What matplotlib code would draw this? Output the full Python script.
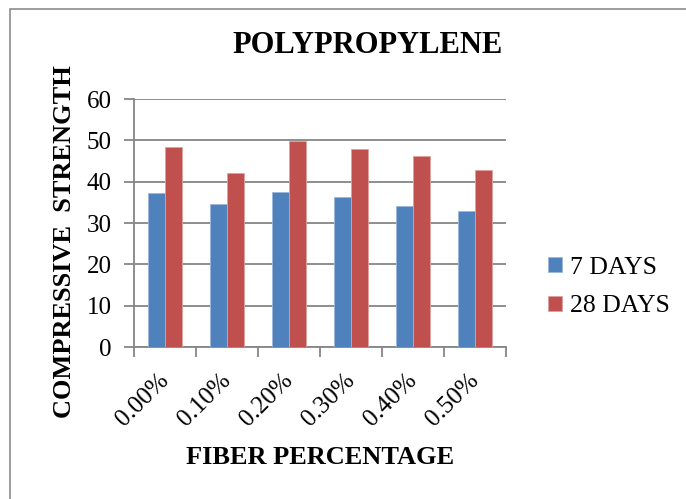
import numpy as np
import matplotlib
matplotlib.use("Agg")
import matplotlib.pyplot as plt
from matplotlib.patches import Rectangle

# compressive strength by fiber content
fiber_pct = ['0.00%', '0.10%', '0.20%', '0.30%', '0.40%', '0.50%']
days_7 = [37.3, 34.7, 37.5, 36.3, 34.1, 33.0]
days_28 = [48.5, 42.2, 49.8, 47.9, 46.3, 42.9]
series_names = ['7 DAYS', '28 DAYS']

plt.rcParams['font.family'] = 'Liberation Serif'

blue = '#4F81BD'
red = '#C0504D'
grey = '#868686'

fig = plt.figure(figsize=(6.86, 4.99), dpi=100)
ax = fig.add_axes([134/686, 1 - 347/499, (506 - 134)/686, (347 - 99)/499])

x = np.arange(len(fiber_pct))
w = 0.28
ax.bar(x - w/2, days_7, w, color=blue, edgecolor='#9DB7D9', linewidth=0.6,
       label=series_names[0], zorder=3)
ax.bar(x + w/2, days_28, w, color=red, edgecolor='#DDA09E', linewidth=0.6,
       label=series_names[1], zorder=3)

ax.set_xlim(-0.5, len(fiber_pct) - 0.5)
ax.set_ylim(0, 60)
ax.set_yticks(np.arange(0, 61, 10))
ax.yaxis.grid(True, color=grey, linewidth=1.3, zorder=0)

# category labels at centres, tick marks on the boundaries
ax.set_xticks(x)
ax.set_xticklabels(fiber_pct, rotation=45, ha='right', va='center',
                   rotation_mode='anchor', fontsize=18)
ax.set_xticks(np.arange(-0.5, len(fiber_pct)), minor=True)
ax.tick_params(axis='x', which='major', length=0, pad=22)
ax.tick_params(axis='x', which='minor', length=7, width=1.3, color=grey)
ax.tick_params(axis='y', length=7, width=1.3, color=grey, labelsize=18, pad=9)

for side in ['top', 'right']:
    ax.spines[side].set_visible(False)
for side in ['left', 'bottom']:
    ax.spines[side].set_color(grey)
    ax.spines[side].set_linewidth(1.3)

fig.text(0.536, 0.909, 'POLYPROPYLENE', ha='center', va='center',
         fontsize=22, fontweight='bold')
fig.text(0.4665, 0.084, 'FIBER PERCENTAGE', ha='center', va='center',
         fontsize=19, fontweight='bold')
fig.text(0.0933, 0.515, 'COMPRESSIVE  STRENGTH', ha='center', va='center',
         rotation=90, fontsize=19, fontweight='bold')

fig.legend(loc='center left', bbox_to_anchor=(548/686, 1 - 287/499),
           frameon=False, fontsize=18.5, handlelength=0.55, handleheight=0.55,
           handletextpad=0.3, labelspacing=0.65, borderpad=0, borderaxespad=0)

# chart frame
fig.patches.append(Rectangle((10/686, -0.1), 1.2, 1 - 9/499 + 0.1,
                             transform=fig.transFigure, fill=False,
                             edgecolor='#8C8C8C', linewidth=1.2))

fig.savefig('out.png', dpi=100)
